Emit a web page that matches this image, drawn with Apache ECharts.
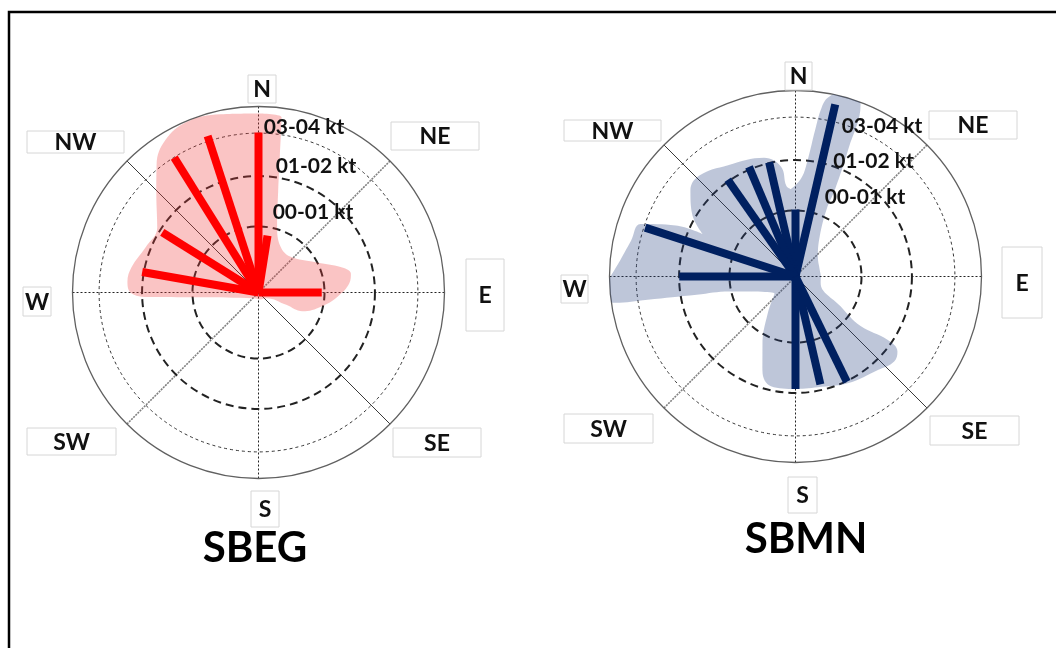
<!DOCTYPE html>
<html><head><meta charset="utf-8">
<script src="https://cdn.jsdelivr.net/npm/echarts@6/dist/echarts.min.js"></script>
<style>html,body{margin:0;padding:0;background:#fff}#c{width:1056px;height:648px}</style>
</head><body><div id="c"></div>
<script>
// ---------- DATA ----------
const directions = ['N', 'NE', 'E', 'SE', 'S', 'SW', 'W', 'NW'];
const ringLabels = ['00-01 kt', '01-02 kt', '03-04 kt'];
const ringLevels = [35.5, 62.6, 85.7];          // radius of the reference rings (% of outer circle)
const stations = ['SBEG', 'SBMN'];

// SBEG: bar directions (deg from N, clockwise) and lengths (% of outer radius)
const sbegAngles = [280, 302, 328, 342, 0, 9, 90];
const sbegValues = [63.5, 61, 85.5, 88.5, 86, 31, 34];
// SBEG shaded envelope (direction, radius %)
const sbegShapeAngles = [359.4, 7.5, 8.9, 11, 15.5, 25.1, 41.3, 62.1, 73.1, 78.5, 84.4, 92.9, 102.4, 113.2, 113.9, 125, 167, 222, 265.3, 267.5, 269.6, 274.7, 281.2, 291.7, 302.7, 314.1, 321.5, 328.5, 337, 348, 359.4];
const sbegShapeValues = [96.3, 95, 74, 55.4, 37.4, 27.6, 25.7, 34.8, 46.6, 50.7, 49, 42.7, 34.8, 25.7, 16.3, 5.3, 3.8, 4.2, 30.7, 56.9, 68.2, 70.7, 69.6, 65.4, 64.7, 76.5, 88, 96, 99.5, 98, 96.3];

// SBMN
const sbmnAngles = [13, 0, 347, 337, 325, 288, 270, 180, 167, 154];
const sbmnValues = [95, 36, 63, 64, 63.5, 85, 62.5, 60.5, 59.5, 63];
const sbmnShapeAngles = [357, 3.4, 6.1, 7.6, 8.8, 10.4, 14.2, 19, 20.7, 22.5, 24.4, 24.8, 31.3, 48.7, 75, 90, 104.8, 123.4, 127.3, 124.5, 126.3, 130.7, 138.6, 153.5, 166.6, 180, 192.6, 199.2, 206, 216.8, 231, 257.3, 259.6, 261.1, 261.7, 264.6, 267.5, 274.2, 282.3, 288.7, 293.1, 294.6, 301.2, 309.3, 316.2, 328.8, 345.2, 352.5, 354.2, 357];
const sbmnShapeValues = [47, 53, 64, 79, 92, 98, 102, 102, 99, 74.5, 51.5, 40, 25, 16, 13.5, 13.6, 14, 29, 44, 60, 68, 70, 67, 64, 61, 60.5, 60.5, 54, 40.5, 25, 14.5, 36.5, 54, 80.5, 98, 103.5, 102, 95.5, 90.5, 88, 70, 55, 65, 73, 75, 70, 66, 59.5, 49, 47];

// ---------- LAYOUT ----------
const R = 186;
const FONT = 'Lato, "Open Sans", sans-serif';
const layouts = [
  {
    center: [258.5, 292.5], bar: '#FF0000', area: 'rgba(240,60,60,0.30)',
    angles: sbegAngles, values: sbegValues, sA: sbegShapeAngles, sV: sbegShapeValues,
    title: [255, 548],
    ringText: [[313, 212.5], [316, 166], [304, 127.5]],
    boxes: [[248, 75, 28, 28], [391, 122, 88, 28], [466, 259, 38, 72], [393, 428, 88, 29],
            [251, 491, 28, 36], [27, 428, 89, 27], [23, 287, 28, 29], [27, 131, 97, 22]]
  },
  {
    center: [795.5, 276.5], bar: '#002060', area: 'rgba(40,65,130,0.30)',
    angles: sbmnAngles, values: sbmnValues, sA: sbmnShapeAngles, sV: sbmnShapeValues,
    title: [806, 539],
    ringText: [[865, 197.5], [873.5, 161], [882, 126]],
    boxes: [[785, 62, 27, 28], [929, 111, 88, 28], [1002, 247, 40, 71], [930, 416, 89, 29],
            [788, 477, 29, 36], [564, 414, 89, 29], [561, 275, 27, 28], [564, 120, 97, 21]]
  }
];

const polar = [], angleAxis = [], radiusAxis = [], series = [], graphic = [];

graphic.push({ type: 'rect', z: 100, shape: { x: 9, y: 12, width: 1100, height: 700 },
  style: { fill: null, stroke: '#000', lineWidth: 2.5 } });

function addPolar(center, radius, angleOpt) {
  const idx = polar.length;
  polar.push({ center: center, radius: radius });
  angleAxis.push(Object.assign({
    polarIndex: idx, type: 'value', min: 0, max: 360, interval: 90, startAngle: 90, clockwise: true,
    axisTick: { show: false }, axisLabel: { show: false },
    axisLine: { show: false }, splitLine: { show: false }
  }, angleOpt));
  radiusAxis.push({
    polarIndex: idx, type: 'value', min: 0, max: 100,
    axisLine: { show: false }, axisTick: { show: false }, axisLabel: { show: false }, splitLine: { show: false }
  });
  return idx;
}

layouts.forEach((L, ci) => {
  // main polar: outer circle + N-S / E-W spokes
  const main = addPolar(L.center, R, {
    axisLine: { show: true, lineStyle: { color: '#606060', width: 1.3 } },
    splitLine: { show: true, lineStyle: { color: '#222', width: 1, type: [2, 2] } }
  });
  // NE-SW spoke
  addPolar(L.center, R, { startAngle: 45, interval: 180,
    splitLine: { show: true, lineStyle: { color: '#808080', width: 1.6, type: [2, 1] } } });
  // NW-SE spoke
  addPolar(L.center, R, { startAngle: -45, interval: 180,
    splitLine: { show: true, lineStyle: { color: '#3a3a3a', width: 1 } } });
  // reference rings
  ringLevels.forEach((lv, k) => {
    const dashed = k < 2;
    addPolar(L.center, R * lv / 100, {
      axisLine: { show: true, lineStyle: dashed
        ? { color: '#222', width: 2, type: [8, 5] }
        : { color: '#333', width: 1, type: [3, 3] } }
    });
  });

  // envelope
  series.push({
    type: 'line', coordinateSystem: 'polar', polarIndex: main, silent: true, z: 1,
    smooth: 0.4, symbol: 'none', lineStyle: { width: 0, opacity: 0 },
    areaStyle: { color: L.area, opacity: 1 },
    data: L.sV.map((v, i) => [v, L.sA[i]])
  });
  // bars
  L.angles.forEach((a, i) => {
    series.push({
      type: 'line', coordinateSystem: 'polar', polarIndex: main, silent: true, z: 3,
      symbol: 'none', lineStyle: { color: L.bar, width: 8, cap: 'butt' },
      data: [[0, a], [L.values[i], a]]
    });
  });

  // direction boxes
  directions.forEach((d, k) => {
    const b = L.boxes[k];
    graphic.push({ type: 'rect', z: 50, shape: { x: b[0], y: b[1], width: b[2], height: b[3] },
      style: { fill: '#fff', stroke: '#d6d6d6', lineWidth: 1 } });
    graphic.push({ type: 'text', z: 51, style: {
      text: d, x: b[0] + b[2] / 2, y: b[1] + b[3] / 2 + 1, textAlign: 'center', textVerticalAlign: 'middle',
      font: 'bold 23px ' + FONT, fill: '#111' } });
  });
  // ring labels
  ringLabels.forEach((t, k) => {
    graphic.push({ type: 'text', z: 51, style: {
      text: t, x: L.ringText[k][0], y: L.ringText[k][1], textAlign: 'center', textVerticalAlign: 'middle',
      font: 'bold 21px ' + FONT, fill: '#111' } });
  });
  // station title
  graphic.push({ type: 'text', z: 51, style: {
    text: stations[ci], x: L.title[0], y: L.title[1], textAlign: 'center', textVerticalAlign: 'middle',
    font: 'bold 42px ' + FONT, fill: '#000' } });
});

const chart = echarts.init(document.getElementById('c'), null, { renderer: 'canvas' });
chart.setOption({
  animation: false,
  backgroundColor: '#fff',
  polar, angleAxis, radiusAxis, series, graphic
});
</script>
</body></html>
